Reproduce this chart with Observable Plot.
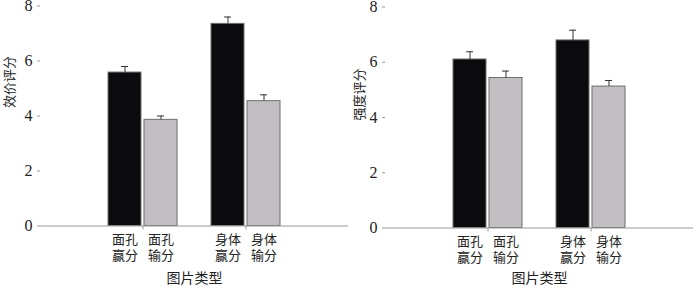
<!DOCTYPE html>
<html>
<head>
<meta charset="utf-8">
<script src="https://cdn.jsdelivr.net/npm/d3@7"></script>
<script src="https://cdn.jsdelivr.net/npm/@observablehq/plot@0.6"></script>
<style>
  html, body { margin: 0; padding: 0; background: #fff; }
  #wrap { display: flex; flex-direction: row; width: 700px; height: 291px; }
</style>
</head>
<body>
<div id="wrap"></div>
<script>
// ---- data ----
const groups = ["面孔", "身体"];
const outcomes = ["赢分", "输分"];
const yTicks = [0, 2, 4, 6, 8];
const xTitle = "图片类型";
// order: 面孔赢分, 面孔输分, 身体赢分, 身体输分
const valenceMeans = [5.58, 3.86, 7.35, 4.54];
const valenceSE = [0.22, 0.14, 0.25, 0.23];
const intensityMeans = [6.1, 5.43, 6.79, 5.12];
const intensitySE = [0.28, 0.25, 0.37, 0.22];

function rowsOf(means, ses) {
  return groups.flatMap((g, i) => outcomes.map((o, j) => ({
    group: g, outcome: o, value: means[i * 2 + j], se: ses[i * 2 + j], top: means[i * 2 + j] + ses[i * 2 + j]
  })));
}

const cjk = "'Noto Sans CJK SC', sans-serif";
const serif = "'Liberation Serif', 'DejaVu Serif', serif";

function panel(means, ses, yLabel, m) {
  const rows = rowsOf(means, ses);
  const win = rows.filter(d => d.outcome === outcomes[0]);
  const lose = rows.filter(d => d.outcome === outcomes[1]);
  const half = 36, capIn = 13;
  const barStyle = {stroke: "#6e6e6e", strokeWidth: 1};
  return Plot.plot({
    width: 350,
    height: 291,
    marginLeft: m.left, marginRight: m.right, marginTop: m.top, marginBottom: m.bottom,
    style: {fontFamily: cjk, fontSize: "13px", color: "#222", background: "#fff", overflow: "visible"},
    x: {domain: groups, paddingInner: 0.33, paddingOuter: 0.66, axis: null},
    y: {domain: [0, 8], axis: null},
    color: {domain: outcomes, range: ["#0b0b0e", "#c2bec2"]},
    marks: [
      Plot.barY(win, {x: "group", y: "value", fill: "outcome", insetRight: half, ...barStyle}),
      Plot.barY(lose, {x: "group", y: "value", fill: "outcome", insetLeft: half, ...barStyle}),
      Plot.ruleX(win, {x: "group", y1: "value", y2: "top", dx: -18, stroke: "#333", strokeWidth: 1}),
      Plot.ruleX(lose, {x: "group", y1: "value", y2: "top", dx: 18, stroke: "#333", strokeWidth: 1}),
      Plot.tickY(win, {x: "group", y: "top", insetLeft: capIn, insetRight: half + capIn, stroke: "#333", strokeWidth: 1}),
      Plot.tickY(lose, {x: "group", y: "top", insetLeft: half + capIn, insetRight: capIn, stroke: "#333", strokeWidth: 1}),
      Plot.ruleY([0], {stroke: "#999", strokeWidth: 1.2}),
      Plot.axisY({ticks: yTicks, tickSize: 3, stroke: "#999", line: true, label: null, text: null}),
      Plot.text(yTicks, {y: d => d, text: d => String(d), frameAnchor: "left", textAnchor: "end", dx: -8,
        fontFamily: serif, fontSize: 16, fill: "#222"}),
      Plot.axisX({tickSize: 4, stroke: "#999", text: null, label: null}),
      Plot.text([yLabel], {text: d => d, frameAnchor: "left", rotate: -90, dx: -m.left + 9, dy: m.ylabDy,
        fontSize: 13, fill: "#222"}),
      Plot.text([xTitle], {text: d => d, frameAnchor: "bottom", dy: m.xlabDy, fontSize: 14, fill: "#222"}),
      Plot.text(win, {x: "group", text: d => d.group + "\n" + d.outcome, frameAnchor: "bottom", lineAnchor: "top",
        dx: -18, dy: 6, lineHeight: 1.25, fontSize: 13, fill: "#222"}),
      Plot.text(lose, {x: "group", text: d => d.group + "\n" + d.outcome, frameAnchor: "bottom", lineAnchor: "top",
        dx: 18, dy: 6, lineHeight: 1.25, fontSize: 13, fill: "#222"})
    ]
  });
}

const wrap = document.getElementById("wrap");
wrap.append(panel(valenceMeans, valenceSE, "效价评分", {left: 40, right: 2, top: 5.5, bottom: 65.5, ylabDy: -8, xlabDy: 57}));
wrap.append(panel(intensityMeans, intensitySE, "强度评分", {left: 35, right: 7, top: 6.5, bottom: 63.5, ylabDy: 3, xlabDy: 55}));
</script>
</body>
</html>
